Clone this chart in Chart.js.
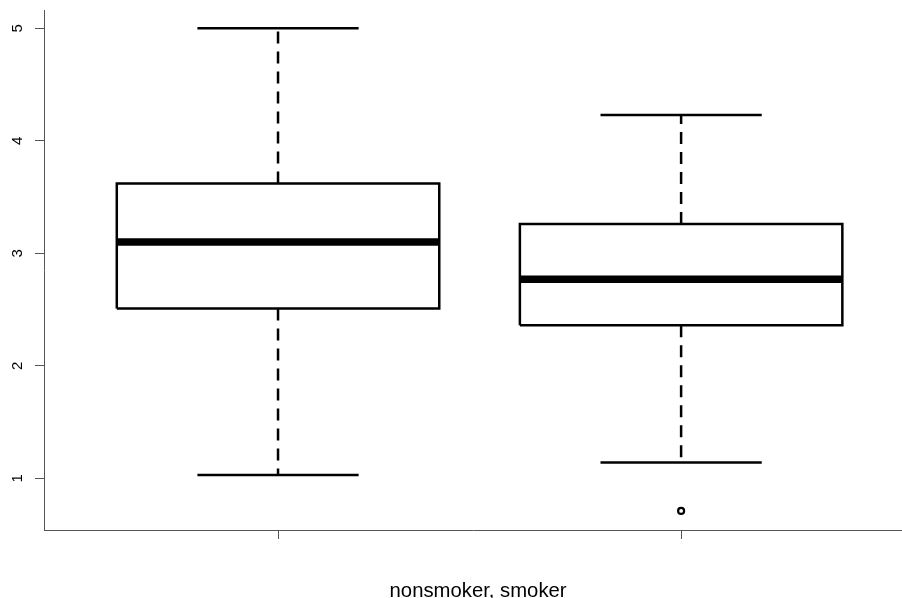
<!DOCTYPE html>
<html>
<head>
<meta charset="utf-8">
<script src="https://cdn.jsdelivr.net/npm/chart.js@4/dist/chart.umd.min.js"></script>
<style>
  html, body { margin: 0; padding: 0; background: #fff; overflow: hidden; }
  #wrap { width: 902px; height: 598px; position: relative; }
</style>
</head>
<body>
<div id="wrap"><canvas id="c"></canvas></div>
<script>
// ---- data ----
const groups = ['nonsmoker', 'smoker'];
const positions = [1, 2];
const whiskerLow = [1.03, 1.14];
const q1 = [2.51, 2.36];
const median = [3.10, 2.77];
const q3 = [3.62, 3.26];
const whiskerHigh = [5.00, 4.23];
const outliers = [[], [0.71]];
const yTicks = [1, 2, 3, 4, 5];
const xTicks = [1, 2];
const xTitle = 'nonsmoker, smoker';

const FONT = '"Liberation Sans", Arial, Helvetica, sans-serif';
const BOX_HALF = 0.4, CAP_HALF = 0.2;
const LW = 2.5;

const datasets = [];
positions.forEach((p, i) => {
  // box
  datasets.push({
    data: [
      {x: p - BOX_HALF, y: q1[i]}, {x: p + BOX_HALF, y: q1[i]},
      {x: p + BOX_HALF, y: q3[i]}, {x: p - BOX_HALF, y: q3[i]},
      {x: p - BOX_HALF, y: q1[i]}
    ],
    showLine: true, borderColor: '#000', borderWidth: LW, pointRadius: 0,
    borderJoinStyle: 'miter', fill: false
  });
  // median
  datasets.push({
    data: [{x: p - BOX_HALF, y: median[i]}, {x: p + BOX_HALF, y: median[i]}],
    showLine: true, borderColor: '#000', borderWidth: 7.5, pointRadius: 0,
    borderCapStyle: 'butt'
  });
  // whiskers (dashed)
  datasets.push({
    data: [{x: p, y: q3[i]}, {x: p, y: whiskerHigh[i]}],
    showLine: true, borderColor: '#000', borderWidth: LW, pointRadius: 0,
    borderDash: [12, 8], borderCapStyle: 'butt'
  });
  datasets.push({
    data: [{x: p, y: q1[i]}, {x: p, y: whiskerLow[i]}],
    showLine: true, borderColor: '#000', borderWidth: LW, pointRadius: 0,
    borderDash: [12, 8], borderCapStyle: 'butt'
  });
  // caps
  datasets.push({
    data: [{x: p - CAP_HALF, y: whiskerHigh[i]}, {x: p + CAP_HALF, y: whiskerHigh[i]}],
    showLine: true, borderColor: '#000', borderWidth: LW, pointRadius: 0
  });
  datasets.push({
    data: [{x: p - CAP_HALF, y: whiskerLow[i]}, {x: p + CAP_HALF, y: whiskerLow[i]}],
    showLine: true, borderColor: '#000', borderWidth: LW, pointRadius: 0
  });
  // outliers
  if (outliers[i].length) {
    datasets.push({
      data: outliers[i].map(v => ({x: p, y: v})),
      showLine: false, pointRadius: 3, borderWidth: 2.2,
      pointBorderColor: '#000', pointBackgroundColor: '#fff'
    });
  }
});

const textPlugin = {
  id: 'rText',
  afterDraw(chart) {
    const ys = chart.scales.y, xs = chart.scales.x, ctx = chart.ctx;
    ctx.save();
    ctx.fillStyle = '#000';
    // y tick labels, rotated like R (las = 0)
    ctx.font = '15px ' + FONT;
    ctx.textAlign = 'center';
    ctx.textBaseline = 'middle';
    yTicks.forEach(v => {
      const y = ys.getPixelForValue(v);
      ctx.save();
      ctx.translate(18, y);
      ctx.rotate(-Math.PI / 2);
      ctx.fillText(String(v), 0, 0);
      ctx.restore();
    });
    // x axis title, centred on the plot region (midpoint of the group positions)
    const mid = positions.reduce((a, b) => a + b, 0) / positions.length;
    ctx.font = '20.3px ' + FONT;
    ctx.textAlign = 'center';
    ctx.textBaseline = 'alphabetic';
    ctx.fillText(xTitle, xs.getPixelForValue(mid) - 1.5, 596.5);
    ctx.restore();
  }
};

new Chart(document.getElementById('c'), {
  type: 'scatter',
  data: { datasets },
  plugins: [textPlugin],
  options: {
    responsive: true,
    maintainAspectRatio: false,
    animation: false,
    layout: { autoPadding: false, padding: { top: 10, right: 0, left: 0, bottom: 0 } },
    plugins: { legend: { display: false }, tooltip: { enabled: false } },
    scales: {
      x: {
        type: 'linear',
        min: 0.4194, max: 2.548,
        afterBuildTicks: s => { s.ticks = xTicks.map(v => ({value: v})); },
        afterFit: s => { s.height = 68; },
        ticks: { display: false },
        grid: { display: true, drawOnChartArea: false, drawTicks: true, tickLength: 9, color: '#555', lineWidth: 1 },
        border: { display: true, color: '#555', width: 1 }
      },
      y: {
        type: 'linear',
        min: 0.5404, max: 5.163,
        afterBuildTicks: s => { s.ticks = yTicks.map(v => ({value: v})); },
        afterFit: s => { s.width = 44; },
        ticks: { display: false },
        grid: { display: true, drawOnChartArea: false, drawTicks: true, tickLength: 9, color: '#555', lineWidth: 1 },
        border: { display: true, color: '#555', width: 1 }
      }
    }
  }
});
</script>
</body>
</html>
